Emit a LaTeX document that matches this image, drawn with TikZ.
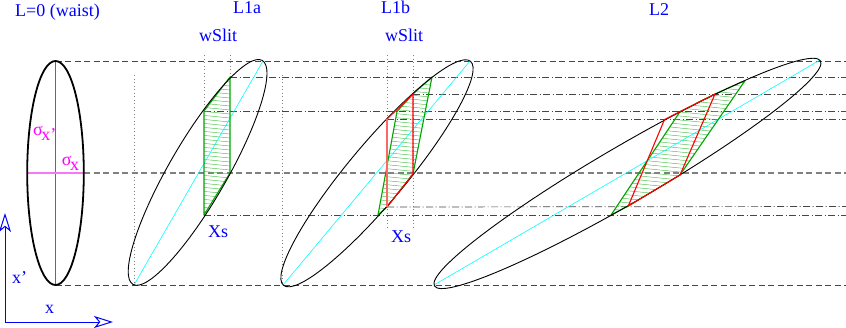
\documentclass[tikz,border=0pt]{standalone}
\usepackage{fontspec}
\setmainfont{Liberation Serif}
\usetikzlibrary{arrows.meta}
\definecolor{gline}{RGB}{0,165,0}
\definecolor{ghatch}{RGB}{70,190,70}
\definecolor{dgray}{RGB}{70,70,70}
\definecolor{cyanl}{RGB}{0,255,255}
\definecolor{magl}{RGB}{255,0,255}
\definecolor{magp}{RGB}{245,120,245}
\definecolor{bluel}{RGB}{0,0,255}
\begin{document}
\begin{tikzpicture}[x=1pt,y=-1pt,
  lab/.style={text=bluel, font=\fontsize{18}{18}\selectfont, inner sep=0pt, anchor=base west},
  sig/.style={text=magl, font=\fontsize{18}{18}\selectfont, inner sep=0pt, anchor=base west},
  dashl/.style={dgray, line width=0.7pt, dash pattern=on 6pt off 3.5pt},
  dashc/.style={gray, line width=1.1pt, dash pattern=on 6pt off 3.5pt},
  dashdot/.style={dgray, line width=0.7pt, dash pattern=on 7pt off 2.5pt on 1pt off 2.5pt},
  dotl/.style={gray, line width=0.7pt, dash pattern=on 1pt off 2.5pt},
  ell/.style={black, line width=0.9pt},
  diag/.style={cyanl, line width=0.6pt},
  gpoly/.style={gline, line width=1.1pt, line join=round},
  rpoly/.style={red, line width=1.1pt, line join=round},
  hatchl/.style={ghatch, line width=0.45pt},
  ax/.style={bluel, line width=1pt, -{Stealth[open, length=19pt, width=12pt, inset=5pt, line width=1pt]}},
]
\path[use as bounding box] (0,0) rectangle (846,327);

% ---------- coordinates ----------
\coordinate (W) at (55.5,173);
\coordinate (A) at (197.6,172.4);
\coordinate (B) at (377,173.3);
\coordinate (C) at (627.5,173.4);
% L1a green
\coordinate (a1) at (204,111);
\coordinate (a2) at (230,77);
\coordinate (a3) at (230,173);
\coordinate (a4) at (204,215);
% L1b green
\coordinate (b1) at (378,215);
\coordinate (b2) at (397,111.5);
\coordinate (b3) at (413,94);
\coordinate (b4) at (432,77);
\coordinate (b5) at (413,174);
\coordinate (b6) at (387,207);
\coordinate (b7) at (387,119);
% L2 green / red
\coordinate (c1) at (611,215);
\coordinate (c2) at (680,111.7);
\coordinate (c3) at (715,94);
\coordinate (c4) at (745,80.7);
\coordinate (c5) at (680,175);
\coordinate (c6) at (628.3,206);
\coordinate (c7) at (664.5,119.5);

% ---------- horizontal reference lines ----------
\draw[dashl] (55.5,61) -- (846,61);
\draw[dashl] (55.5,285) -- (846,285);
\draw[dashc] (84,173) -- (846,173);
\draw[dashdot] (a2) -- (846,77);
\draw[dashdot] (b3) -- (846,94);
\draw[dashdot] (a1) -- (846,111);
\draw[dashdot] (b7) -- (846,119);
\draw[dashdot] (b6) -- (846,206.5);
\draw[dashdot] (a4) -- (846,215);

% ---------- dotted verticals ----------
\draw[dotl] (134,75) -- (134,285);
\draw[dotl] (282,75) -- (282,285);
\draw[dotl] (204,55) -- (a1);
\draw[dotl] (230,55) -- (a2);
\draw[dotl] (387,55) -- (387,227);
\draw[dotl] (413,55) -- (413,227);

% ---------- hatching ----------
\begin{scope}
  \clip (a1) -- (a2) -- (a3) -- (a4) -- cycle;
  \foreach \y in {50,54,...,240} \draw[hatchl] (190,\y) -- (250,\y+6);
\end{scope}
\begin{scope}
  \clip (b1) -- (b2) -- (b3) -- (b4) -- (b5) -- (b6) -- cycle;
  \foreach \y in {50,54,...,240} \draw[hatchl] (360,\y) -- (450,\y+9);
\end{scope}
\begin{scope}
  \clip (c1) -- (c2) -- (c3) -- (c4) -- (c5) -- (c6) -- cycle;
  \foreach \y in {40,44,...,250} \draw[hatchl] (600,\y) -- (760,\y+16);
\end{scope}

% ---------- diagonals ----------
\draw[diag] (134,285) -- (263,61);
\draw[diag] (283,285) -- (470,61);
\draw[diag] (434,285) -- (820,60);

% ---------- waist ----------
\draw[magl, line width=1.2pt] (55.5,62) -- (55.5,284);
\draw[magp, line width=1.3pt] (27.5,173) -- (84,173);
\draw[black, line width=1.8pt] (W) ellipse [x radius=28.3pt, y radius=112pt];

% ---------- green outlines ----------
\draw[gpoly] (a1) -- (a2) -- (a3) -- (a4) -- cycle;
\draw[gpoly] (b1) -- (b2) -- (b3) -- (b4) -- (b5) -- (b6) -- cycle;
\draw[gpoly] (c1) -- (c2) -- (c3) -- (c4) -- (c5) -- (c6) -- cycle;

% ---------- ellipses ----------
\draw[ell, rotate around={60:(A)}] (A) ellipse [x radius=129.3pt, y radius=29pt];
\draw[ell, rotate around={50.14:(B)}] (B) ellipse [x radius=145.9pt, y radius=29pt];
\draw[ell, rotate around={30.24:(C)}] (C) ellipse [x radius=223.4pt, y radius=28.3pt];

% ---------- red outlines ----------
\draw[rpoly] (b7) -- (b3) -- (b5) -- (b6);
\draw[red!60, line width=1.3pt] (b6) -- (b7);
\draw[rpoly] (c6) -- (c7) -- (c2) -- (c3) -- (c5) -- cycle;

% ---------- axes ----------
\coordinate (O) at (5,322);
\coordinate (Ox) at (113,322);
\coordinate (Oy) at (5,213);
\draw[ax] (O) -- (Oy);
\draw[ax] (O) -- (Ox);

% ---------- labels ----------
\node[lab] (t0) at (15,16) {L=0 (waist)};
\node[lab] (t1) at (233,13.3) {L1a};
\node[lab] (t2) at (381,13.3) {L1b};
\node[lab] (t3) at (649,15.5) {L2};
\node[lab] (w1) at (199,41) {wSlit};
\node[lab] (w2) at (385,41.5) {wSlit};
\node[lab] (x1) at (208,237) {Xs};
\node[lab] (x2) at (391,242.7) {Xs};
\node[lab] (xp) at (12,283.3) {x'};
\node[lab] (xx) at (45,313) {x};
\node[sig] (s1) at (33,135) {σ\kern-1.5pt\raisebox{-5pt}{x'}};
\node[sig] (s2) at (61.7,165) {σ\kern-1.5pt\raisebox{-5pt}{x}};
\end{tikzpicture}
\end{document}
